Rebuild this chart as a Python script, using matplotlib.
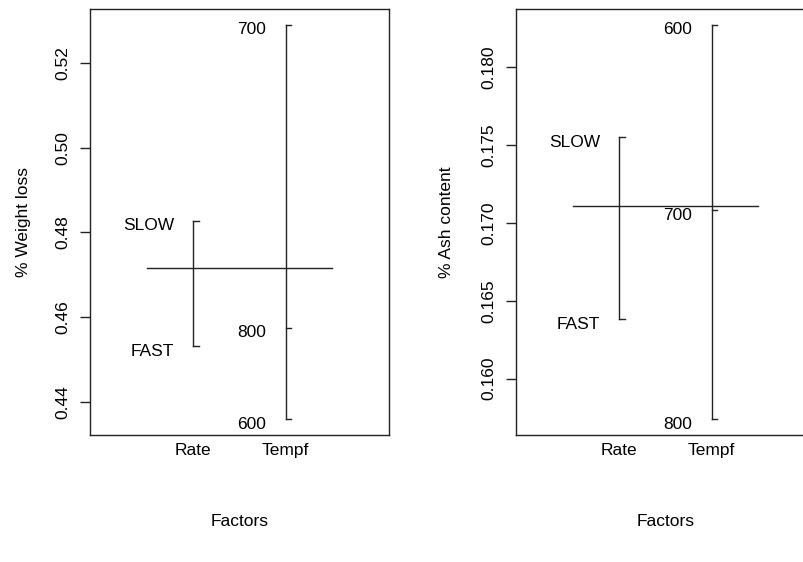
import numpy as np
import matplotlib
matplotlib.use('Agg')
from matplotlib import pyplot as plt

plt.rcParams['font.family'] = ['Liberation Sans', 'DejaVu Sans']
plt.rcParams['font.size'] = 12.5

# factor names
factors = ['Rate', 'Tempf']

# % Weight loss
wl_rate_levels = ['SLOW', 'FAST']
wl_rate_means = [0.4828, 0.4531]
wl_temp_levels = ['700', '800', '600']
wl_temp_means = [0.5290, 0.4575, 0.4359]
wl_grand_mean = 0.4717
wl_ticks = [0.44, 0.46, 0.48, 0.50, 0.52]

# % Ash content
ash_rate_levels = ['SLOW', 'FAST']
ash_rate_means = [0.1755, 0.1638]
ash_temp_levels = ['600', '700', '800']
ash_temp_means = [0.1827, 0.1708, 0.1574]
ash_grand_mean = 0.1711
ash_ticks = [0.160, 0.165, 0.170, 0.175, 0.180]


def design_panel(ax, groups, grand_mean, ticks, fmt, ylabel, ylabelpad):
    """画 plot.design 风格的因子均值图"""
    allv = np.concatenate([g[1] for g in groups])
    lo, hi = allv.min(), allv.max()
    pad = (hi - lo) * 0.04
    for i, (levels, means) in enumerate(groups):
        x = i + 1
        ax.plot([x, x], [min(means), max(means)], color='#222222', lw=1.0)
        for lev, m in zip(levels, means):
            ax.plot([x, x + 0.06], [m, m], color='#222222', lw=1.0)
            ax.annotate(lev, xy=(x - 0.21, m), xytext=(0, -7),
                        textcoords='offset points', ha='right', va='baseline')
    ax.plot([0.5, len(groups) + 0.5], [grand_mean, grand_mean], color='#222222', lw=1.0)
    ax.set_xlim(-0.12, len(groups) + 1.12)
    ax.set_ylim(lo - pad, hi + pad)
    ax.set_xticks(range(1, len(groups) + 1))
    ax.set_xticklabels(factors)
    ax.set_yticks(ticks)
    ax.set_yticklabels([fmt.format(t) for t in ticks], rotation=90, va='center')
    ax.tick_params(axis='x', length=0, pad=6)
    ax.tick_params(axis='y', length=7, width=1.0, color='#222222', pad=7)
    for s in ax.spines.values():
        s.set_linewidth(1.0)
        s.set_color('#222222')
    ax.set_xlabel('Factors', labelpad=40)
    ax.set_ylabel(ylabel, labelpad=ylabelpad)


fig = plt.figure(figsize=(8.04, 5.62), dpi=100)
ax1 = fig.add_axes([90 / 804, 1 - 435 / 562, 299 / 804, 426 / 562])
ax2 = fig.add_axes([516 / 804, 1 - 435 / 562, 299 / 804, 426 / 562])

design_panel(ax1, [(wl_rate_levels, wl_rate_means), (wl_temp_levels, wl_temp_means)],
             wl_grand_mean, wl_ticks, '{:.2f}', '% Weight loss', 18)
design_panel(ax2, [(ash_rate_levels, ash_rate_means), (ash_temp_levels, ash_temp_means)],
             ash_grand_mean, ash_ticks, '{:.3f}', '% Ash content', 20)

fig.savefig('out.png', dpi=100)
